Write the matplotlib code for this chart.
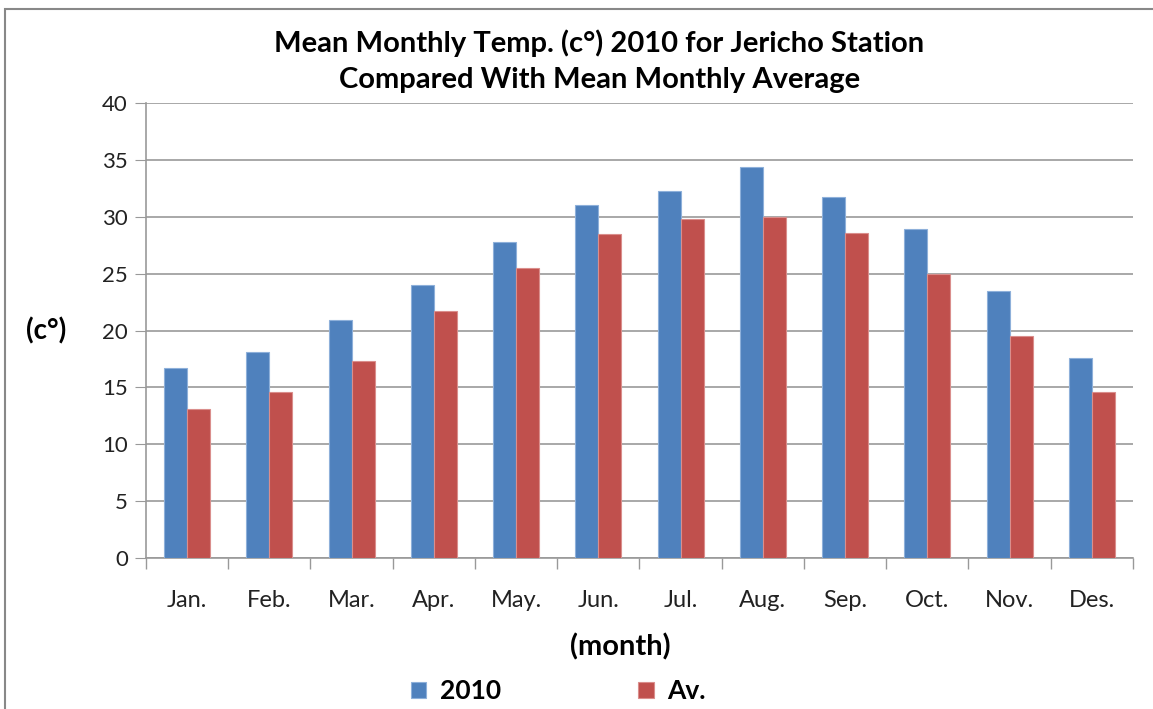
import matplotlib
matplotlib.use("Agg")
import matplotlib.pyplot as plt
import numpy as np
from matplotlib.patches import Rectangle

months = ["Jan.", "Feb.", "Mar.", "Apr.", "May.", "Jun.", "Jul.", "Aug.", "Sep.", "Oct.", "Nov.", "Des."]
temp_2010 = [16.7, 18.1, 20.9, 24.0, 27.8, 31.0, 32.3, 34.4, 31.7, 28.9, 23.5, 17.6]
temp_avg = [13.1, 14.6, 17.3, 21.7, 25.5, 28.5, 29.8, 30.0, 28.6, 25.0, 19.5, 14.6]

plt.rcParams["font.family"] = ["Lato", "DejaVu Sans"]

fig = plt.figure(figsize=(11.53, 7.09), dpi=100)
ax = fig.add_axes([0.1266, 0.213, 0.856, 0.6417])

x = np.arange(len(months))
w = 0.28
ax.bar(x - w / 2, temp_2010, w, color="#4F81BD", edgecolor="#8EB0DA", lw=0.8, label="2010", zorder=3)
ax.bar(x + w / 2, temp_avg, w, color="#C0504D", edgecolor="#DA8E8C", lw=0.8, label="Av.", zorder=3)

ax.set_xlim(-0.5, len(months) - 0.5)
ax.set_ylim(0, 40)
ax.set_yticks(range(0, 41, 5))
ax.set_xticks(x)
ax.set_xticklabels(months, fontsize=17, color="#222222")
ax.set_xticks(np.arange(-0.5, len(months), 1), minor=True)
ax.tick_params(axis="x", which="major", length=0, pad=23)
ax.tick_params(axis="x", which="minor", length=8, color="#999999", width=1)
ax.tick_params(axis="y", length=8, color="#999999", labelsize=16, labelcolor="#222222", pad=5)
ax.grid(axis="y", color="#999999", lw=1.2, zorder=0)
for s in ["top", "right"]:
    ax.spines[s].set_visible(False)
for s in ["left", "bottom"]:
    ax.spines[s].set_color("#999999")
    ax.spines[s].set_linewidth(1.2)

ax.set_ylabel("(c°)", rotation=0, fontsize=20, fontweight="bold", labelpad=40, va="center")
ax.set_xlabel("(month)", fontsize=21, fontweight="bold", va="center")
ax.xaxis.set_label_coords(0.481, -0.196)
fig.text(0.52, 0.914, "Mean Monthly Temp. (c°) 2010 for Jericho Station\nCompared With Mean Monthly Average",
         ha="center", va="center", fontsize=21, fontweight="bold", linespacing=1.5)

fig.legend(loc="center", bbox_to_anchor=(0.484, 0.025), ncol=2, frameon=False,
           prop={"size": 19, "weight": "bold"}, handlelength=0.6, handleheight=0.6,
           columnspacing=5.2, handletextpad=0.5)

fig.add_artist(Rectangle((0.0045, -0.1), 1.2, 1.087, transform=fig.transFigure,
                         fill=False, edgecolor="#888888", lw=1.5))

fig.savefig("out.png", dpi=100)
